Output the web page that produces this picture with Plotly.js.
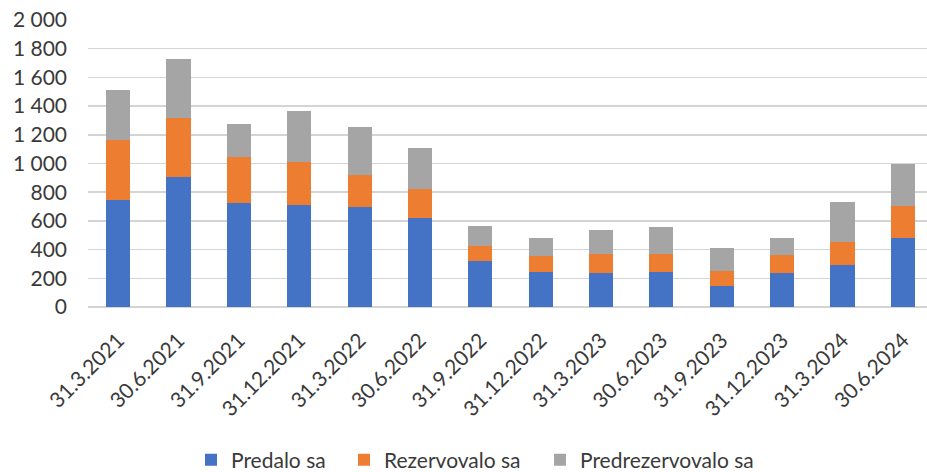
<!DOCTYPE html>
<html>
<head>
<meta charset="utf-8">
<script src="https://cdn.plot.ly/plotly-3.0.1.min.js"></script>
<style>html,body{margin:0;padding:0;background:#fff;}#chart{width:927px;height:472px;}</style>
</head>
<body>
<div id="chart"></div>
<script>
const categories = ["31.3.2021","30.6.2021","31.9.2021","31.12.2021","31.3.2022","30.6.2022","31.9.2022","31.12.2022","31.3.2023","30.6.2023","31.9.2023","31.12.2023","31.3.2024","30.6.2024"];
const predalo = [748, 904, 722, 713, 695, 623, 318, 246, 237, 246, 149, 237, 290, 479];
const rezervovalo = [413, 413, 323, 295, 225, 197, 107, 107, 135, 126, 104, 125, 163, 225];
const predrezervovalo = [349, 409, 233, 360, 332, 286, 142, 126, 162, 186, 156, 117, 279, 290];
const seriesNames = ["Predalo sa", "Rezervovalo sa", "Predrezervovalo sa"];
const colors = ["#4472C4", "#ED7D31", "#A5A5A5"];
const legendIds = ["legend", "legend2", "legend3"];

const font = "Lato, 'Noto Sans', sans-serif";
const data = [predalo, rezervovalo, predrezervovalo].map((v, i) => ({
  type: "bar", x: categories, y: v, name: seriesNames[i],
  marker: {color: colors[i]}, legend: legendIds[i]
}));

const legendBase = (px) => ({
  orientation: "h", xref: "container", yref: "container",
  x: px / 927, xanchor: "left", y: 0.025, yanchor: "middle",
  font: {size: 21, color: "#3a3a3a"}, itemwidth: 30, bgcolor: "rgba(0,0,0,0)"
});

const layout = {
  width: 927, height: 472,
  margin: {l: 88, r: 0, t: 20, b: 165},
  barmode: "stack", bargap: 0.6,
  separators: ", ",
  paper_bgcolor: "#fff", plot_bgcolor: "#fff",
  font: {family: font, size: 21, color: "#3a3a3a"},
  xaxis: {
    type: "category", range: [-0.5, 13.4], tickangle: -45, automargin: false,
    showgrid: false, showline: false, ticks: "", ticklabelstandoff: 16,
    tickfont: {size: 21, color: "#3a3a3a"}
  },
  yaxis: {
    range: [0, 2000], dtick: 200, tickformat: ",d", automargin: false,
    showgrid: true, gridcolor: "#d4d4d4", gridwidth: 1.5,
    zeroline: true, zerolinecolor: "#d4d4d4", zerolinewidth: 1.5,
    ticks: "", ticklabelstandoff: 20,
    tickfont: {size: 21, color: "#3a3a3a"}
  },
  showlegend: true,
  legend: legendBase(191),
  legend2: legendBase(344),
  legend3: legendBase(540)
};
Plotly.newPlot("chart", data, layout, {displayModeBar: false, staticPlot: true});
</script>
</body>
</html>
